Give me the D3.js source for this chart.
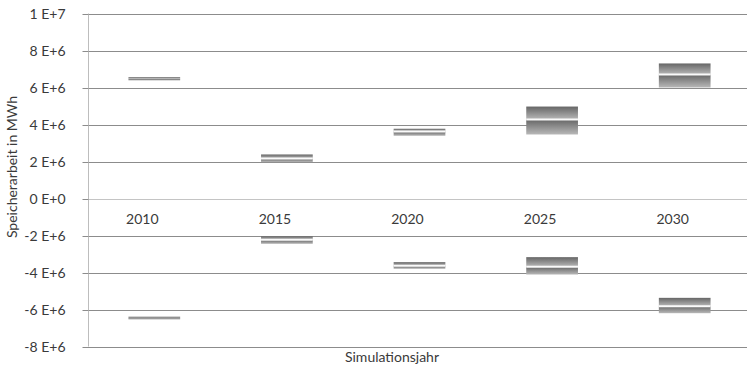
<!DOCTYPE html>
<html>
<head>
<meta charset="utf-8">
<script src="https://d3js.org/d3.v7.min.js"></script>
<style>
  html, body { margin: 0; padding: 0; background: #fff; }
  svg { display: block; }
  text { font-family: Lato, "Open Sans", sans-serif; fill: #3a3a3a; }
</style>
</head>
<body>
<svg id="chart" width="747" height="372"></svg>
<script>
// Simulation years
const years = ["2010", "2015", "2020", "2025", "2030"];

// Stored energy (charge, positive) in MWh: lower bound, middle, upper bound
const chargeLow  = [6.38e6, 1.97e6, 3.39e6, 3.46e6, 6.00e6];
const chargeMid  = [6.47e6, 2.16e6, 3.62e6, 4.27e6, 6.70e6];
const chargeHigh = [6.56e6, 2.38e6, 3.77e6, 4.97e6, 7.30e6];

// Released energy (discharge, negative) in MWh
const dischargeLow  = [-6.54e6, -2.45e6, -3.80e6, -4.11e6, -6.20e6];
const dischargeMid  = [-6.47e6, -2.23e6, -3.64e6, -3.69e6, -5.82e6];
const dischargeHigh = [-6.39e6, -2.04e6, -3.44e6, -3.17e6, -5.37e6];

// Y axis ticks
const yTicks = [-8e6, -6e6, -4e6, -2e6, 0, 2e6, 4e6, 6e6, 8e6, 1e7];
const yTickLabels = ["-8 E+6", "-6 E+6", "-4 E+6", "-2 E+6", "0 E+0", "2 E+6", "4 E+6", "6 E+6", "8 E+6", "1 E+7"];

const svg = d3.select("#chart");
const plotLeft = 88, plotRight = 751, plotTop = 13.5, plotBottom = 346.5;

const x = d3.scaleBand().domain(years).range([plotLeft, plotRight]).padding(0);
const y = d3.scaleLinear().domain([-8e6, 1e7]).range([plotBottom, plotTop]);

// gradient used for each box segment
const defs = svg.append("defs");
const grad = defs.append("linearGradient")
  .attr("id", "seg").attr("x1", 0).attr("y1", 0).attr("x2", 0).attr("y2", 1);
grad.append("stop").attr("offset", "0%").attr("stop-color", "#666");
grad.append("stop").attr("offset", "100%").attr("stop-color", "#b8b8b8");
defs.append("filter").attr("id", "soft")
  .append("feGaussianBlur").attr("stdDeviation", 0.5);

// horizontal gridlines
svg.append("g").selectAll("line")
  .data(yTicks)
  .join("line")
  .attr("x1", plotLeft).attr("x2", plotRight)
  .attr("y1", d => Math.round(y(d)) + 0.5).attr("y2", d => Math.round(y(d)) + 0.5)
  .attr("stroke", d => d === 0 ? "#c4c4c4" : "#8c8c8c")
  .attr("stroke-width", 1);

// y axis
const yAxis = d3.axisLeft(y)
  .tickValues(yTicks)
  .tickFormat((d, i) => yTickLabels[i])
  .tickSize(6)
  .tickPadding(17);
const gy = svg.append("g").attr("transform", `translate(${plotLeft + 0.5},0)`).call(yAxis);
gy.select(".domain").attr("stroke", "#bdbdbd").attr("d", `M0,${plotTop}V${plotBottom}`);
gy.selectAll(".tick line").attr("stroke", "#8c8c8c");
gy.selectAll(".tick text")
  .style("font-size", "14px")
  .attr("fill", "#3a3a3a");
gy.selectAll(".tick").attr("transform", d => `translate(0,${Math.round(y(d)) + 0.5})`);

// category labels beneath the zero line
svg.append("g").selectAll("text")
  .data(years)
  .join("text")
  .attr("x", d => x(d) + x.bandwidth() / 2 - 12)
  .attr("y", y(0) + 25)
  .attr("text-anchor", "middle")
  .style("font-size", "14px")
  .text(d => d);

// boxes
const barW = x.bandwidth() * 0.39;
function drawBoxes(low, mid, high) {
  const g = svg.append("g").attr("filter", "url(#soft)");
  years.forEach((yr, i) => {
    const cx = x(yr) + x.bandwidth() / 2;
    // lower segment
    g.append("rect")
      .attr("x", cx - barW / 2).attr("width", barW)
      .attr("y", y(mid[i])).attr("height", y(low[i]) - y(mid[i]))
      .attr("fill", "url(#seg)");
    // upper segment
    g.append("rect")
      .attr("x", cx - barW / 2).attr("width", barW)
      .attr("y", y(high[i])).attr("height", y(mid[i]) - y(high[i]))
      .attr("fill", "url(#seg)");
    // middle line
    if (y(low[i]) - y(high[i]) > 5) {
      g.append("line")
        .attr("x1", cx - barW / 2).attr("x2", cx + barW / 2)
        .attr("y1", y(mid[i])).attr("y2", y(mid[i]))
        .attr("stroke", "#fafafa").attr("stroke-width", 2);
    }
  });
}
drawBoxes(chargeLow, chargeMid, chargeHigh);
drawBoxes(dischargeLow, dischargeMid, dischargeHigh);

// axis titles
svg.append("text")
  .attr("transform", "translate(17,167) rotate(-90)")
  .attr("text-anchor", "middle")
  .style("font-size", "14px")
  .text("Speicherarbeit in MWh");

svg.append("text")
  .attr("x", 392).attr("y", 362)
  .attr("text-anchor", "middle")
  .style("font-size", "14px")
  .text("Simulationsjahr");
</script>
</body>
</html>
